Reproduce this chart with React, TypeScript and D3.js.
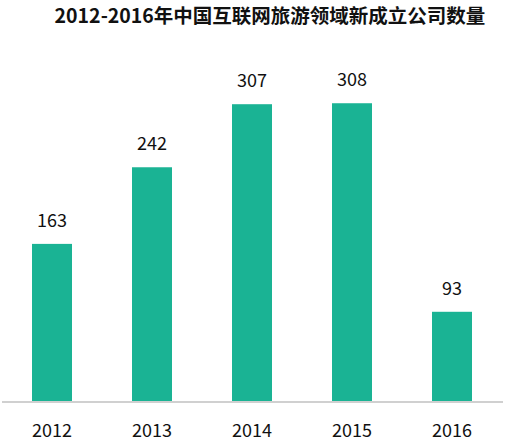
import React, { useEffect, useRef } from 'react';
import * as d3 from 'd3';

const years = ['2012', '2013', '2014', '2015', '2016'];
const companies = [163, 242, 307, 308, 93];
const title = '2012-2016年中国互联网旅游领域新成立公司数量';

const W = 510;
const H = 445;

export default function App() {
  const ref = useRef<SVGSVGElement>(null);

  useEffect(() => {
    if (!ref.current) return;
    const svg = d3.select(ref.current);
    svg.selectAll('*').remove();

    const font = '"Noto Sans CJK SC", "Noto Sans", sans-serif';
    const baseY = 402;

    const x = d3.scaleBand<string>()
      .domain(years)
      .range([2, 502])
      .paddingInner(0.6)
      .paddingOuter(0.3);

    const y = d3.scaleLinear()
      .domain([0, 400])
      .range([baseY, 14]);

    // title
    svg.append('text')
      .attr('x', 270)
      .attr('y', 23)
      .attr('text-anchor', 'middle')
      .attr('font-family', font)
      .attr('font-weight', 'bold')
      .attr('font-size', 19.5)
      .attr('fill', '#111')
      .text(title);

    // bars
    svg.selectAll('.bar')
      .data(companies)
      .join('rect')
      .attr('class', 'bar')
      .attr('x', (_, i) => x(years[i])!)
      .attr('width', x.bandwidth())
      .attr('y', d => y(d))
      .attr('height', d => baseY - y(d))
      .attr('fill', '#1ab394');

    // value labels
    svg.selectAll('.val')
      .data(companies)
      .join('text')
      .attr('class', 'val')
      .attr('x', (_, i) => x(years[i])! + x.bandwidth() / 2)
      .attr('y', d => y(d) - 17)
      .attr('text-anchor', 'middle')
      .attr('font-family', font)
      .attr('font-size', 18)
      .attr('fill', '#111')
      .text(d => d);

    // x axis
    const axis = svg.append('g')
      .attr('transform', `translate(0,${baseY})`)
      .call(d3.axisBottom(x).tickSize(0).tickPadding(22));
    axis.select('.domain')
      .attr('stroke', '#d0d0d0')
      .attr('stroke-width', 2)
      .attr('d', 'M2,0H503');
    axis.selectAll('text')
      .attr('font-family', font)
      .attr('font-size', 18)
      .attr('fill', '#111');
  }, []);

  return (
    <div style={{ position: 'absolute', left: 0, top: 0, background: '#fff' }}>
      <svg ref={ref} width={W} height={H} />
    </div>
  );
}
